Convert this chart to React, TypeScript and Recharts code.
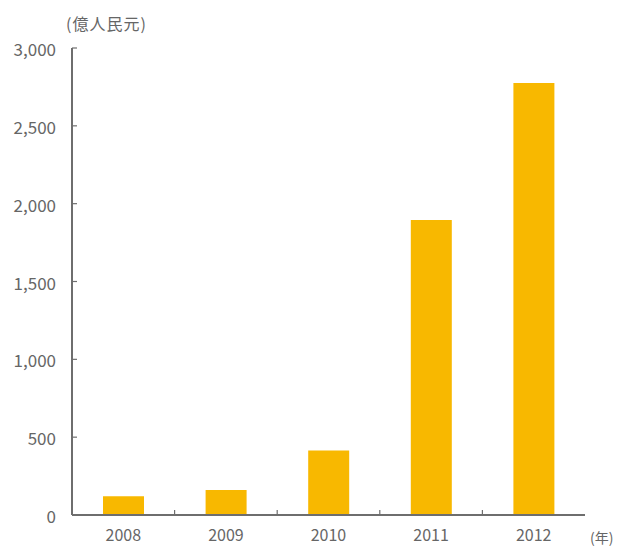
import React from 'react';
import { BarChart, Bar, XAxis, YAxis } from 'recharts';

// values in 億人民元
const years = ['2008', '2009', '2010', '2011', '2012'];
const amounts = [120, 160, 415, 1895, 2775];
const yTicks = [0, 500, 1000, 1500, 2000, 2500, 3000];

const data = years.map((year, i) => ({ year, amount: amounts[i] }));

const WIDTH = 605;
const HEIGHT = 539;
const MARGIN = { top: 40, right: 28, left: 0, bottom: 0 };
const Y_AXIS_WIDTH = 64;
const BAND = (WIDTH - MARGIN.left - MARGIN.right - Y_AXIS_WIDTH) / years.length;

const FONT = '"Noto Sans CJK JP", "Noto Sans", sans-serif';
const TEXT_COLOR = '#666666';
const AXIS_COLOR = '#6e6e6e';

const XTick = (props: any) => {
    const { x, y, payload, index } = props;
    return (
        <g>
            {index > 0 && (
                <line x1={x - BAND / 2} y1={y} x2={x - BAND / 2} y2={y - 5} stroke={AXIS_COLOR} strokeWidth={1.2} />
            )}
            <text x={x} y={y + 26} textAnchor="middle" fill={TEXT_COLOR} fontSize={16} fontFamily={FONT}>
                {payload.value}
            </text>
        </g>
    );
};

const YTick = (props: any) => {
    const { x, y, payload } = props;
    return (
        <g>
            {payload.value > 0 && (
                <line x1={x} y1={y} x2={x + 5} y2={y} stroke={AXIS_COLOR} strokeWidth={1.2} />
            )}
            <text x={x - 16} y={y + 8} textAnchor="end" fill={TEXT_COLOR} fontSize={17} fontFamily={FONT}>
                {payload.value.toLocaleString('en-US')}
            </text>
        </g>
    );
};

const App: React.FC = () => {
    return (
        <div style={{ position: 'relative', width: WIDTH, height: HEIGHT, fontFamily: FONT }}>
            <div style={{ position: 'absolute', left: 58, top: 3, fontSize: 16, color: TEXT_COLOR, letterSpacing: 1 }}>
                (億人民元)
            </div>
            <BarChart width={WIDTH} height={HEIGHT} data={data} margin={MARGIN}>
                <XAxis
                    dataKey="year"
                    height={32}
                    tickSize={0}
                    tickMargin={0}
                    tickLine={false}
                    axisLine={{ stroke: AXIS_COLOR, strokeWidth: 2 }}
                    tick={<XTick />}
                    interval={0}
                />
                <YAxis
                    width={Y_AXIS_WIDTH}
                    domain={[0, 3000]}
                    ticks={yTicks}
                    tickSize={0}
                    tickMargin={0}
                    tickLine={false}
                    axisLine={{ stroke: AXIS_COLOR, strokeWidth: 2 }}
                    tick={<YTick />}
                    interval={0}
                />
                <Bar dataKey="amount" fill="#F8B800" barSize={41} isAnimationActive={false} />
            </BarChart>
            <div style={{ position: 'absolute', left: 582, top: 519, fontSize: 14, color: TEXT_COLOR, whiteSpace: 'nowrap' }}>
                (年)
            </div>
        </div>
    );
};

export default App;
